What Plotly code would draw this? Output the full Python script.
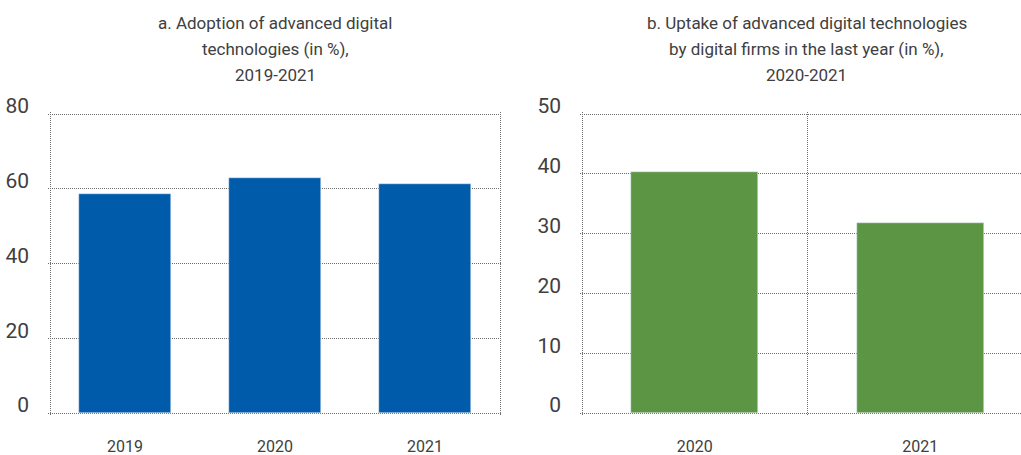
import plotly.graph_objects as go

# panel a: adoption of advanced digital technologies (%)
years_a = ["2019", "2020", "2021"]
adoption = [58.5, 63.0, 61.2]

# panel b: uptake by digital firms in the last year (%)
years_b = ["2020", "2021"]
uptake = [40.3, 31.7]

y_ticks_a = [0, 20, 40, 60, 80]
y_ticks_b = [0, 10, 20, 30, 40, 50]

title_a = ["a. Adoption of advanced digital", "technologies (in %),", "2019-2021"]
title_b = ["b. Uptake of advanced digital technologies",
           "by digital firms in the last year (in %),", "2020-2021"]

FONT = "Roboto, sans-serif"
TXT = "#404040"
GRID = "#6f6f6f"
DOT = "1px,1px"

W, H = 1021, 455
ML, MT, MB = 48, 112, 40       # plot box is padded 2px so edge gridlines survive
PAD = 2
plot_w = W - ML
plot_h = H - MT - MB
px_y_a = (plot_h - 2 * PAD) / 80
px_y_b = (plot_h - 2 * PAD) / 50

fig = go.Figure()
fig.add_trace(go.Bar(x=list(range(len(years_a))), y=adoption, marker_color="#005BAA",
                     width=0.607, xaxis="x", yaxis="y", showlegend=False))
fig.add_trace(go.Bar(x=list(range(len(years_b))), y=uptake, marker_color="#5C9644",
                     width=0.563, xaxis="x2", yaxis="y2", showlegend=False))

grid = dict(showgrid=True, gridcolor=GRID, griddash=DOT, gridwidth=1,
            zeroline=False, showline=False, ticks="", automargin=False,
            tickfont=dict(size=21, color=TXT), ticklabelstandoff=18,
            ticklabelshift=-8)
xcommon = dict(showgrid=False, zeroline=False, showline=False, ticks="",
               automargin=False, tickfont=dict(size=16, color=TXT),
               ticklabelstandoff=20)
minor_grid = dict(showgrid=True, gridcolor=GRID, griddash=DOT, gridwidth=1, ticks="")

pad_a = PAD / 150
pad_b = PAD / 225.5

fig.update_layout(
    width=W, height=H,
    margin=dict(l=ML, r=0, t=MT, b=MB),
    plot_bgcolor="white", paper_bgcolor="white",
    font=dict(family=FONT, color=TXT),
    bargap=0,
    xaxis=dict(domain=[0, (450 + 2 * PAD) / plot_w], range=[-0.5 - pad_a, 2.5 + pad_a],
               tickvals=list(range(len(years_a))), ticktext=years_a,
               minor=dict(tickvals=[-0.5, 2.5], **minor_grid), **xcommon),
    yaxis=dict(range=[-PAD / px_y_a, 80 + PAD / px_y_a], tickvals=y_ticks_a,
               anchor="x", **grid),
    xaxis2=dict(domain=[(582 - PAD - ML) / plot_w, 1],
                range=[-0.5 - pad_b, -0.5 + (W - 582) / 225.5],
                tickvals=list(range(len(years_b))), ticktext=years_b,
                minor=dict(tickvals=[-0.5, 0.5], **minor_grid),
                anchor="y2", **xcommon),
    yaxis2=dict(range=[-PAD / px_y_b, 50 + PAD / px_y_b], tickvals=y_ticks_b,
                anchor="x2", **grid),
)

# three title lines each, spaced like the original
line_y = [23, 49, 75]
for lines, xref, xc in [(title_a, "x domain", 0.5),
                        (title_b, "x2 domain", 0.5 * (451 + PAD) / (W - 582 + PAD))]:
    for txt, yc in zip(lines, line_y):
        fig.add_annotation(text=txt, xref=xref, yref="paper", x=xc, y=1,
                           yshift=MT - yc, yanchor="middle", showarrow=False,
                           font=dict(size=17, color=TXT))

fig.write_html("out.html", config={"displayModeBar": False},
               post_script="document.body.style.margin='0';")
